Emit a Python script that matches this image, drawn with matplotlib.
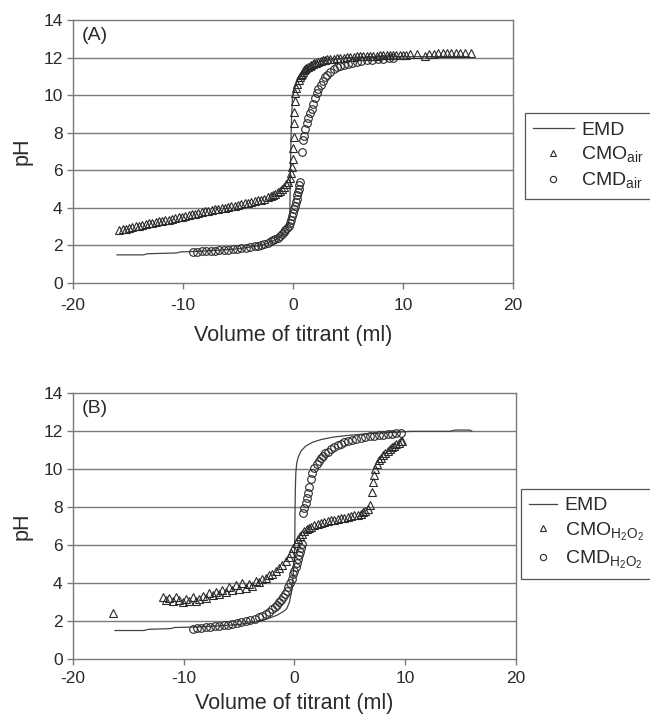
import matplotlib
matplotlib.use("Agg")
import matplotlib.pyplot as plt
from matplotlib.lines import Line2D

plt.rcParams['font.family'] = ['Liberation Sans', 'DejaVu Sans']
plt.rcParams['axes.unicode_minus'] = False
plt.rcParams['mathtext.fontset'] = 'custom'
plt.rcParams['mathtext.rm'] = 'Liberation Sans'

# ---------------- Panel A data ----------------
emd_a_x = [-16.0,-13.6,-13.2,-10.6,-10.2,-9.0,-7.0,-5.0,-3.5,-2.5,-1.6,-1.0,-0.6,-0.4,-0.3,
           -0.27,-0.25,-0.22,-0.18,-0.12,-0.05,0.1,0.4,0.9,1.6,2.5,3.5,5.0,7.0,10.0,16.0]
emd_a_y = [1.50,1.50,1.56,1.60,1.66,1.68,1.74,1.82,1.95,2.08,2.30,2.55,2.85,3.20,3.60,
           4.50,5.50,6.50,7.80,9.00,9.80,10.40,10.90,11.30,11.60,11.80,11.90,12.00,12.03,12.05,12.05]

cmo_air_x = [-15.8,-15.5,-15.2,-14.9,-14.6,-14.3,-14.0,-13.7,-13.4,-13.1,-12.8,-12.5,-12.2,-11.9,-11.6,
             -11.3,-11.0,-10.7,-10.4,-10.1,-9.8,-9.5,-9.2,-8.9,-8.6,-8.3,-8.0,-7.7,-7.4,-7.1,
             -6.8,-6.5,-6.2,-5.9,-5.6,-5.3,-5.0,-4.7,-4.4,-4.1,-3.8,-3.5,-3.2,-2.9,-2.6,
             -2.3,-2.0,-1.8,-1.6,-1.4,-1.2,-1.0,-0.8,-0.6,-0.45,-0.3,-0.2,-0.1,
             0.0,0.02,0.05,0.08,0.1,0.15,0.2,0.3,0.4,0.5,0.6,0.7,0.8,0.9,1.0,1.1,1.2,1.35,1.5,1.65,
             1.8,1.95,2.1,2.3,2.5,2.7,2.9,3.1,3.4,3.7,4.0,4.3,4.6,4.9,5.2,5.5,5.8,6.1,6.4,6.7,
             7.0,7.3,7.6,7.9,8.2,8.5,8.8,9.1,9.4,9.7,10.0,10.3,10.6,11.3,12.0,12.4,12.8,13.2,13.6,
             14.0,14.4,14.8,15.2,15.6,16.2]
cmo_air_y = [2.80,2.85,2.90,2.92,2.98,3.02,3.05,3.10,3.12,3.18,3.20,3.25,3.28,3.32,3.35,
             3.38,3.42,3.45,3.50,3.52,3.58,3.62,3.66,3.70,3.74,3.78,3.82,3.86,3.88,3.92,
             3.96,4.00,4.02,4.06,4.08,4.12,4.15,4.20,4.24,4.28,4.32,4.36,4.40,4.44,4.50,
             4.56,4.62,4.68,4.75,4.82,4.90,5.00,5.10,5.25,5.40,5.60,5.85,6.20,
             6.60,7.20,7.80,8.50,9.10,9.70,10.10,10.40,10.60,10.80,10.95,11.05,11.15,11.25,11.32,11.40,11.45,11.52,11.58,11.62,
             11.66,11.70,11.74,11.78,11.82,11.85,11.88,11.90,11.93,11.95,11.97,11.99,12.00,12.02,12.03,12.05,12.06,12.07,12.08,12.09,
             12.10,12.10,12.11,12.12,12.12,12.13,12.14,12.14,12.15,12.15,12.16,12.16,12.17,12.18,12.10,12.20,12.21,12.22,12.22,
             12.23,12.24,12.24,12.25,12.26,12.27]

cmd_air_x = [-9.1,-8.7,-8.3,-7.9,-7.5,-7.1,-6.7,-6.3,-5.9,-5.5,-5.1,-4.7,-4.3,-3.9,-3.5,
             -3.2,-2.9,-2.6,-2.3,-2.0,-1.8,-1.6,-1.4,-1.2,-1.0,-0.85,-0.7,-0.55,-0.4,-0.3,
             -0.2,-0.1,0.0,0.1,0.18,0.25,0.32,0.4,0.45,0.5,0.55,0.6,
             0.85,0.95,1.0,1.1,1.25,1.4,1.55,1.7,1.85,2.0,2.15,2.3,2.5,2.7,2.9,3.1,3.4,3.7,
             4.0,4.3,4.6,5.0,5.4,5.8,6.2,6.7,7.2,7.7,8.2,8.7,9.1]
cmd_air_y = [1.65,1.66,1.68,1.70,1.72,1.73,1.75,1.77,1.78,1.80,1.82,1.84,1.86,1.90,1.95,
             1.99,2.03,2.08,2.14,2.22,2.28,2.35,2.42,2.52,2.62,2.70,2.80,2.92,3.05,3.20,
             3.35,3.55,3.75,3.95,4.10,4.30,4.50,4.70,4.85,5.00,5.20,5.40,
             6.95,7.60,7.85,8.20,8.50,8.80,9.05,9.25,9.55,9.85,10.10,10.35,10.55,10.75,10.95,11.08,11.25,11.38,
             11.48,11.55,11.62,11.68,11.73,11.77,11.81,11.85,11.88,11.91,11.94,11.97,12.00]

# ---------------- Panel B data ----------------
emd_b_x = [-16.2,-13.6,-13.2,-11.2,-10.8,-9.0,-7.0,-5.0,-3.5,-2.5,-1.6,-1.0,-0.7,-0.45,-0.25,
           -0.12,0.0,0.03,0.05,0.08,0.12,0.2,0.35,0.6,1.0,1.6,2.4,3.5,5.0,7.0,
           9.0,10.5,14.0,14.5,15.8,16.0]
emd_b_y = [1.50,1.50,1.56,1.60,1.66,1.68,1.74,1.82,1.95,2.10,2.30,2.50,2.65,3.00,3.60,
           4.40,5.50,6.50,7.80,9.00,9.80,10.30,10.65,10.95,11.20,11.40,11.55,11.68,11.78,11.87,
           11.93,11.98,11.98,12.05,12.05,12.00]

cmo_h2o2_x = [-16.4,
              -11.9,-11.6,-11.3,-11.0,-10.7,-10.4,-10.1,-9.8,-9.5,-9.2,-8.9,-8.6,-8.3,-8.0,
              -7.7,-7.4,-7.1,-6.8,-6.5,-6.2,-5.9,-5.6,-5.3,-5.0,-4.7,-4.4,-4.1,-3.8,-3.5,
              -3.2,-2.9,-2.6,-2.3,-2.0,-1.7,-1.4,-1.1,-0.8,-0.5,-0.3,-0.1,0.1,0.3,0.5,
              0.7,0.9,1.1,1.3,1.5,1.8,2.1,2.4,2.7,3.0,3.3,3.6,3.9,4.2,4.5,
              4.8,5.1,5.4,5.7,6.0,6.2,6.4,6.6,6.8,
              7.0,7.05,7.15,7.3,7.45,7.6,7.8,8.0,8.2,8.4,8.6,8.8,9.0,9.2,9.4,9.6,9.7]
cmo_h2o2_y = [2.40,
              3.25,3.10,3.20,3.05,3.25,3.10,3.00,3.15,3.05,3.25,3.05,3.15,3.30,3.20,
              3.45,3.35,3.55,3.40,3.65,3.55,3.80,3.65,3.90,3.70,4.00,3.75,3.95,3.85,4.10,
              4.05,4.20,4.25,4.40,4.50,4.65,4.80,4.95,5.15,5.35,5.60,5.85,6.10,6.30,6.45,
              6.60,6.72,6.82,6.90,6.97,7.05,7.12,7.18,7.22,7.26,7.30,7.34,7.37,7.40,7.44,
              7.48,7.52,7.56,7.60,7.65,7.72,7.80,7.90,8.10,
              8.80,9.30,9.70,10.00,10.25,10.45,10.60,10.75,10.85,10.95,11.05,11.15,11.22,11.30,11.38,11.45,11.50]

cmd_h2o2_x = [-9.2,-8.8,-8.4,-8.0,-7.6,-7.2,-6.8,-6.4,-6.0,-5.6,-5.2,-4.8,-4.4,-4.0,-3.6,
              -3.2,-2.9,-2.6,-2.3,-2.0,-1.8,-1.6,-1.4,-1.2,-1.0,-0.85,-0.7,-0.55,-0.4,-0.25,
              -0.1,0.0,0.1,0.2,0.3,0.4,0.5,0.6,0.7,
              0.8,0.9,1.0,1.1,1.2,1.3,1.45,1.6,1.8,2.0,2.2,2.4,2.6,2.8,3.0,
              3.3,3.6,3.9,4.2,4.5,4.8,5.2,5.6,6.0,6.4,6.8,7.2,7.6,8.0,8.4,8.8,9.2,9.6]
cmd_h2o2_y = [1.60,1.62,1.65,1.67,1.70,1.72,1.75,1.77,1.80,1.84,1.88,1.93,1.98,2.05,2.12,
              2.20,2.28,2.38,2.50,2.62,2.72,2.85,2.98,3.12,3.28,3.42,3.58,3.78,3.98,4.22,
              4.45,4.65,4.85,5.05,5.25,5.45,5.65,5.85,6.05,
              7.70,7.95,8.20,8.50,8.75,9.05,9.50,9.80,10.05,10.25,10.42,10.58,10.70,10.82,10.92,
              11.05,11.15,11.25,11.33,11.40,11.46,11.53,11.59,11.64,11.68,11.72,11.75,11.78,11.81,11.84,11.86,11.88,11.90]

x_ticks = [-20, -10, 0, 10, 20]
y_ticks = [0, 2, 4, 6, 8, 10, 12, 14]
panel_labels = ["(A)", "(B)"]
legend_a = ["EMD", r"CMO$_{\mathrm{air}}$", r"CMD$_{\mathrm{air}}$"]
legend_b = ["EMD", r"CMO$_{\mathrm{H_2O_2}}$", r"CMD$_{\mathrm{H_2O_2}}$"]

DARK = '#2a2a2a'
GRID = '#7a7a7a'

fig = plt.figure(figsize=(6.5, 7.16), dpi=100)
ax1 = fig.add_axes([0.1123, 0.6047, 0.677, 0.3673])
ax2 = fig.add_axes([0.1123, 0.0796, 0.6815, 0.3715])

def style(ax, label, xpad, xlabpad):
    ax.set_xlim(-20, 20)
    ax.set_ylim(0, 14)
    ax.set_xticks(x_ticks)
    ax.set_yticks(y_ticks)
    ax.tick_params(direction='out', length=4.5, width=1, color=GRID,
                   labelsize=12.5, labelcolor=DARK)
    ax.tick_params(axis='x', pad=xpad)
    ax.tick_params(axis='y', pad=3)
    for s in ax.spines.values():
        s.set_color(GRID)
        s.set_linewidth(1.0)
    for yv in y_ticks[1:-1]:
        ax.axhline(yv, color=GRID, lw=1.0, zorder=0)
    ax.set_xlabel("Volume of titrant (ml)", fontsize=15.5, color=DARK, labelpad=xlabpad)
    ax.set_ylabel("pH", fontsize=15.5, color=DARK, labelpad=8)
    ax.text(-19.2, 13.2, label, fontsize=14, color=DARK, va='center', ha='left')

def draw(ax, ex, ey, tx, ty, cx, cy, labels, anchor, hl):
    ax.plot(ex, ey, '-', color='#444444', lw=0.9, zorder=2)
    ax.plot(tx, ty, linestyle='none', marker='^', ms=5.5, mfc='none', mec=DARK,
            mew=0.8, zorder=3)
    ax.plot(cx, cy, linestyle='none', marker='o', ms=5.5, mfc='none', mec=DARK,
            mew=0.8, zorder=4)
    handles = [Line2D([], [], color='#444444', lw=0.9),
               Line2D([], [], linestyle='none', marker='^', ms=4.5, mfc='none', mec=DARK, mew=0.8),
               Line2D([], [], linestyle='none', marker='o', ms=4.5, mfc='none', mec=DARK, mew=0.8)]
    leg = fig.legend(handles, labels, loc='upper left', bbox_to_anchor=anchor,
                     bbox_transform=fig.transFigure, frameon=True, fancybox=False,
                     edgecolor=DARK, fontsize=14, borderaxespad=0, handlelength=hl,
                     handletextpad=0.4, labelspacing=0.3, borderpad=0.4)
    leg.get_frame().set_linewidth(0.9)
    for t in leg.get_texts():
        t.set_color(DARK)

style(ax1, panel_labels[0], 6, 9)
draw(ax1, emd_a_x, emd_a_y, cmo_air_x, cmo_air_y, cmd_air_x, cmd_air_y, legend_a,
     (0.8077, 0.842), 2.1)
style(ax2, panel_labels[1], 4, 5.5)
draw(ax2, emd_b_x, emd_b_y, cmo_h2o2_x, cmo_h2o2_y, cmd_h2o2_x, cmd_h2o2_y, legend_b,
     (0.8015, 0.317), 1.45)

fig.savefig("out.png", dpi=100)
